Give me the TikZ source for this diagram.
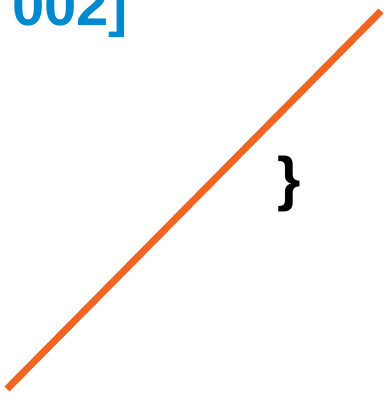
\documentclass[tikz,border=0pt]{standalone}
\usepackage{fontspec}
\setmainfont{Liberation Sans}
\definecolor{titleblue}{RGB}{0,137,207}
\definecolor{lineorange}{RGB}{241,101,34}
\begin{document}
\begin{tikzpicture}[x=1pt,y=1pt,
  titletext/.style={inner sep=0pt,anchor=base west,text=titleblue,font=\bfseries\fontsize{58}{62}\selectfont},
  bracetext/.style={inner sep=0pt,anchor=base,text=black,font=\bfseries\fontsize{60}{64}\selectfont},
  diag/.style={draw=lineorange,line width=7pt}]
\useasboundingbox (0,0) rectangle (386,397);
\node[titletext] (title) at (12,371) {002]};
\node[bracetext] (brace) at (289,197) {\}};
\coordinate (lo) at (7,8);
\coordinate (hi) at (381,386);
\draw[diag] (lo) -- (hi);
\end{tikzpicture}
\end{document}
